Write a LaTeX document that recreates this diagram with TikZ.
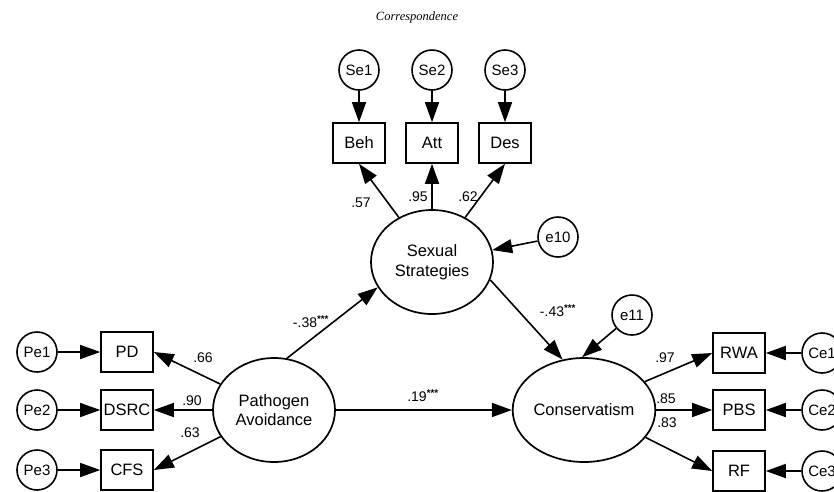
\documentclass[tikz,border=0pt]{standalone}
\usepackage{fontspec}
\setmainfont{Liberation Sans}
\newfontfamily\titlefont{Liberation Serif}
\usetikzlibrary{shapes.geometric,arrows.meta}
\newcommand{\sigstars}{\textsuperscript{\textbf{***}}}
\begin{document}
\begin{tikzpicture}[x=1pt,y=-1pt,
 lat/.style={draw,ellipse,line width=1.7pt,minimum width=122pt,minimum height=104pt,inner sep=0pt,font=\fontsize{16.5}{19.5}\selectfont,align=center},
 obs/.style={draw,rectangle,line width=1.6pt,minimum width=52pt,minimum height=40pt,inner sep=0pt,font=\fontsize{16.5}{18}\selectfont},
 err/.style={draw,circle,line width=1.6pt,minimum size=40pt,inner sep=0pt,font=\fontsize{15}{16}\selectfont},
 arr/.style={line width=1.6pt,-{Triangle[length=20pt,width=14pt]}},
 lbl/.style={font=\fontsize{14}{15}\selectfont,inner sep=0pt}]
\useasboundingbox (0,0) rectangle (834,491);
\node (title) at (417,17) {\titlefont\itshape\fontsize{12.5}{14}\selectfont Correspondence};

% top
\node[err] (Se1) at (359,70) {Se1};
\node[err] (Se2) at (432,70) {Se2};
\node[err] (Se3) at (505,70) {Se3};
\node[obs] (Beh) at (359,143) {Beh};
\node[obs] (Att) at (432,143) {Att};
\node[obs] (Des) at (505,143) {Des};
\node[lat] (SS) at (432,262) {Sexual\\Strategies};
\node[err] (e10) at (558,237) {e10};

% left
\node[lat] (PA) at (274,410) {Pathogen\\Avoidance};
\node[obs] (PD) at (127,352) {PD};
\node[obs] (DSRC) at (127,410) {DSRC};
\node[obs] (CFS) at (127,470) {CFS};
\node[err] (Pe1) at (37,352) {Pe1};
\node[err] (Pe2) at (37,410) {Pe2};
\node[err] (Pe3) at (37,470) {Pe3};

% right
\node[lat] (Cons) at (584,410) {Conservatism};
\node[err] (e11) at (632,315) {e11};
\node[obs] (RWA) at (739,353) {RWA};
\node[obs] (PBS) at (739,410) {PBS};
\node[obs] (RF) at (739,471) {RF};
\node[err] (Ce1) at (822,353) {Ce1};
\node[err] (Ce2) at (822,410) {Ce2};
\node[err] (Ce3) at (822,471) {Ce3};

% arrows
\draw[arr] (Se1) -- (Beh);
\draw[arr] (Se2) -- (Att);
\draw[arr] (Se3) -- (Des);
\draw[arr] (SS) -- (Beh.south);
\draw[arr] (SS) -- (Att);
\draw[arr] (SS) -- (Des.south);
\draw[arr] (e10) -- (SS);

\draw[arr] (Pe1) -- (PD);
\draw[arr] (Pe2) -- (DSRC);
\draw[arr] (Pe3) -- (CFS);
\draw[arr] (PA) -- (PD.east);
\draw[arr] (PA) -- (DSRC);
\draw[arr] (PA) -- (CFS.east);

\draw[arr] (PA.76) -- (SS.205);
\draw[arr] (SS.343) -- (Cons.113);
\draw[arr] (PA) -- (Cons);
\draw[arr] (e11) -- (Cons.92);

\draw[arr] (Cons.25) -- (RWA.west);
\draw[arr] (Cons) -- (PBS);
\draw[arr] (Cons.-24) -- (RF.west);
\draw[arr] (Ce1) -- (RWA);
\draw[arr] (Ce2) -- (PBS);
\draw[arr] (Ce3) -- (RF);

% labels
\node[lbl] (l57) at (361,203) {.57};
\node[lbl] (l95) at (418,197) {.95};
\node[lbl] (l62) at (468,197) {.62};
\node[lbl] (l66) at (203,358) {.66};
\node[lbl] (l90) at (192,401) {.90};
\node[lbl] (l63) at (190,433) {.63};
\node[lbl] (l97) at (665,358) {.97};
\node[lbl] (l85) at (666,399) {.85};
\node[lbl] (l83) at (667,423) {.83};
\node[lbl] (l38) at (311,322) {-.38\sigstars};
\node[lbl] (l19) at (423,396) {.19\sigstars};
\node[lbl] (l43) at (558,311) {-.43\sigstars};
\end{tikzpicture}
\end{document}
